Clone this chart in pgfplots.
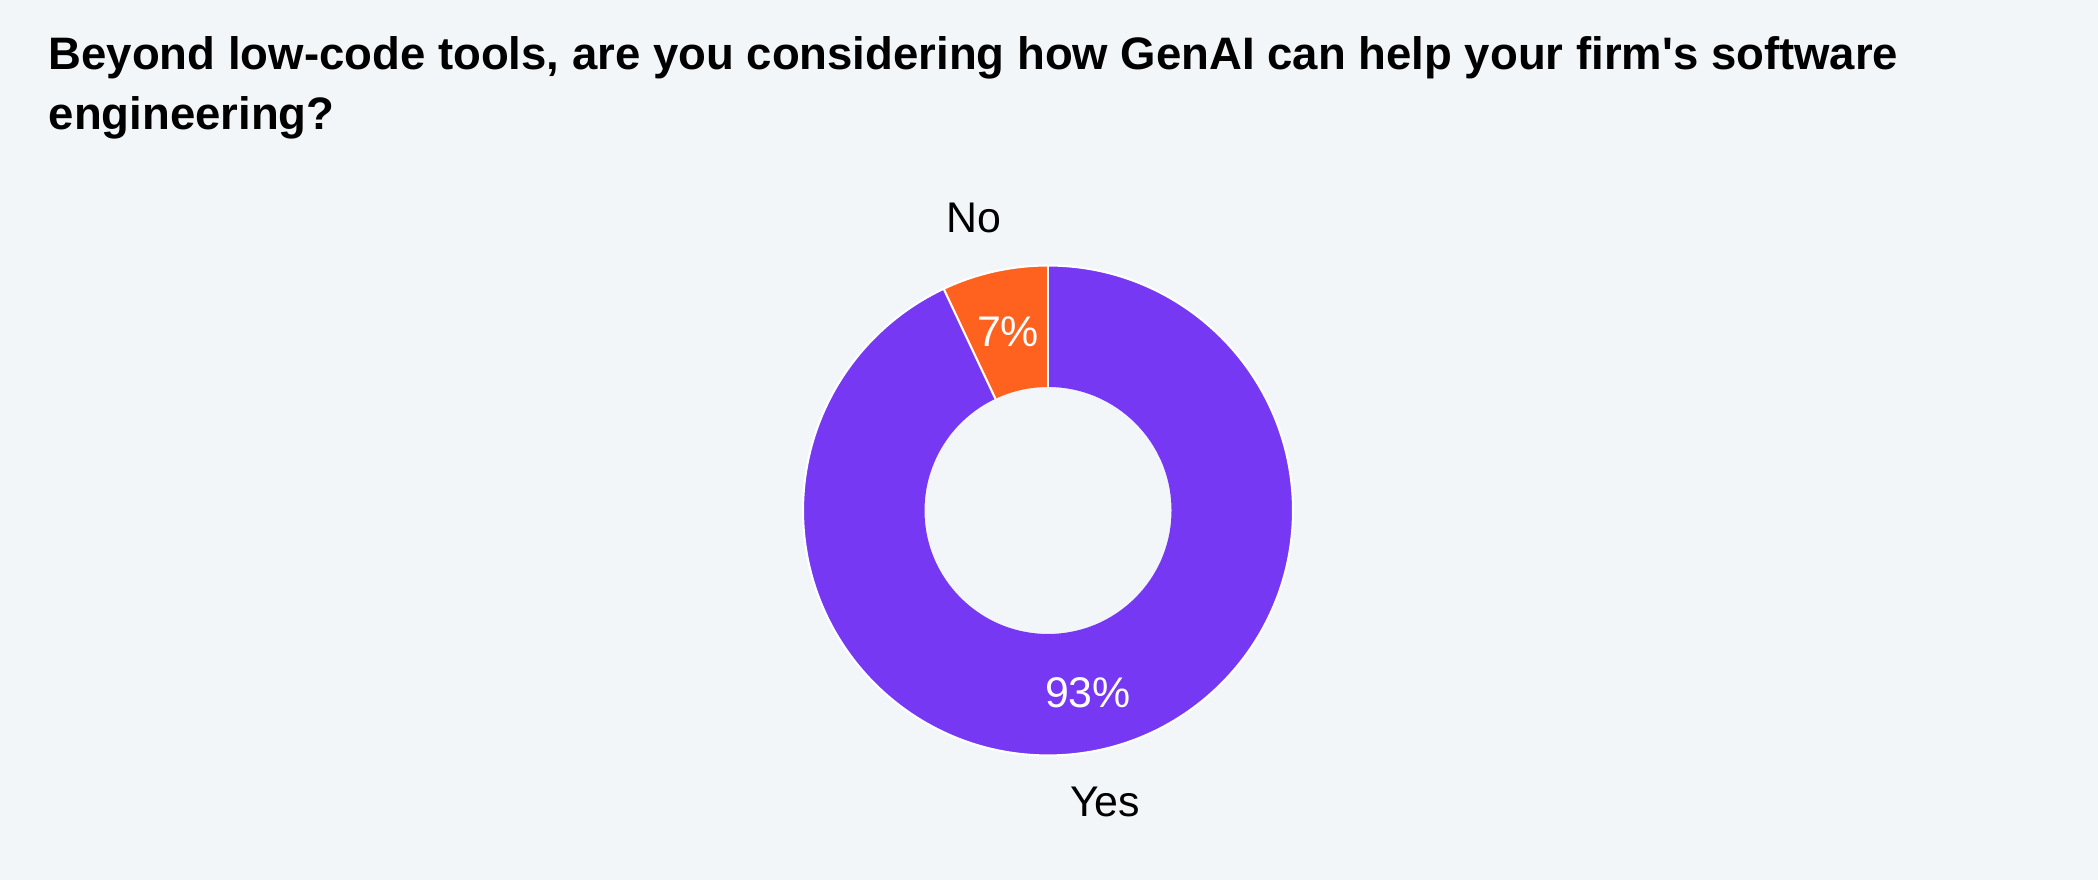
\documentclass[border=0pt]{standalone}
\usepackage{pgfplots}
\usepackage{pgfplotstable}
\pgfplotsset{compat=1.18}
\usepackage{fontspec}
\setmainfont{Liberation Sans}
\newfontfamily\titlef{Liberation Sans}
\definecolor{bg}{RGB}{242,246,249}
\definecolor{cyes}{RGB}{118,56,242}
\definecolor{cno}{RGB}{255,98,30}
\pgfplotstableread{
label value
No 7
Yes 93
}\donutdata
\pgfplotstablegetelem{0}{value}\of\donutdata \let\vno\pgfplotsretval
\pgfplotstablegetelem{1}{value}\of\donutdata \let\vyes\pgfplotsretval
\pgfmathsetmacro{\aA}{90}
\pgfmathsetmacro{\aB}{90+360*\vno/(\vno+\vyes)}
\pgfmathsetmacro{\aC}{450}
\def\cx{1048}\def\cy{369.5}\def\Ro{245}\def\Ri{123.5}
\begin{document}
\begin{tikzpicture}
\begin{axis}[width=20.98cm, height=8.80cm, scale only axis,
  xmin=0, xmax=2098, ymin=0, ymax=880, hide axis, clip=false]
\fill[bg] (axis cs:0,0) rectangle (axis cs:2098,880);
% No slice
\fill[cno] (axis cs:{\cx+\Ro*cos(\aA)},{\cy+\Ro*sin(\aA)}) arc[start angle=\aA, end angle=\aB, radius=\Ro]
  -- (axis cs:{\cx+\Ri*cos(\aB)},{\cy+\Ri*sin(\aB)}) arc[start angle=\aB, end angle=\aA, radius=\Ri] -- cycle;
% Yes slice
\fill[cyes] (axis cs:{\cx+\Ro*cos(\aB)},{\cy+\Ro*sin(\aB)}) arc[start angle=\aB, end angle=\aC, radius=\Ro]
  -- (axis cs:{\cx+\Ri*cos(\aC)},{\cy+\Ri*sin(\aC)}) arc[start angle=\aC, end angle=\aB, radius=\Ri] -- cycle;
% separators
\draw[white, line width=0.6pt] (axis cs:{\cx+\Ri*cos(\aA)},{\cy+\Ri*sin(\aA)}) -- (axis cs:{\cx+\Ro*cos(\aA)},{\cy+\Ro*sin(\aA)});
\draw[white, line width=0.6pt] (axis cs:{\cx+\Ri*cos(\aB)},{\cy+\Ri*sin(\aB)}) -- (axis cs:{\cx+\Ro*cos(\aB)},{\cy+\Ro*sin(\aB)});
\draw[white, line width=0.6pt] (axis cs:\cx,\cy) circle[radius=\Ro];
% title
\node[anchor=base west, font=\titlef\fontsize{12.95}{17}\selectfont\bfseries, inner sep=0pt] at (axis cs:48,810) {Beyond low-code tools, are you considering how GenAI can help your firm's software};
\node[anchor=base west, font=\titlef\fontsize{12.95}{17}\selectfont\bfseries, inner sep=0pt] at (axis cs:48,750) {engineering?};
% labels
\node[anchor=base, font=\fontsize{12.2}{14}\selectfont, inner sep=0pt] at (axis cs:974,647) {No};
\node[anchor=base, font=\fontsize{12.2}{14}\selectfont, inner sep=0pt] at (axis cs:1105,63) {Yes};
\node[anchor=base, font=\fontsize{12.2}{14}\selectfont, text=white, inner sep=0pt] at (axis cs:1008,533) {\vno\%};
\node[anchor=base, font=\fontsize{12.2}{14}\selectfont, text=white, inner sep=0pt] at (axis cs:1088,172) {\vyes\%};
\end{axis}
\end{tikzpicture}
\end{document}
